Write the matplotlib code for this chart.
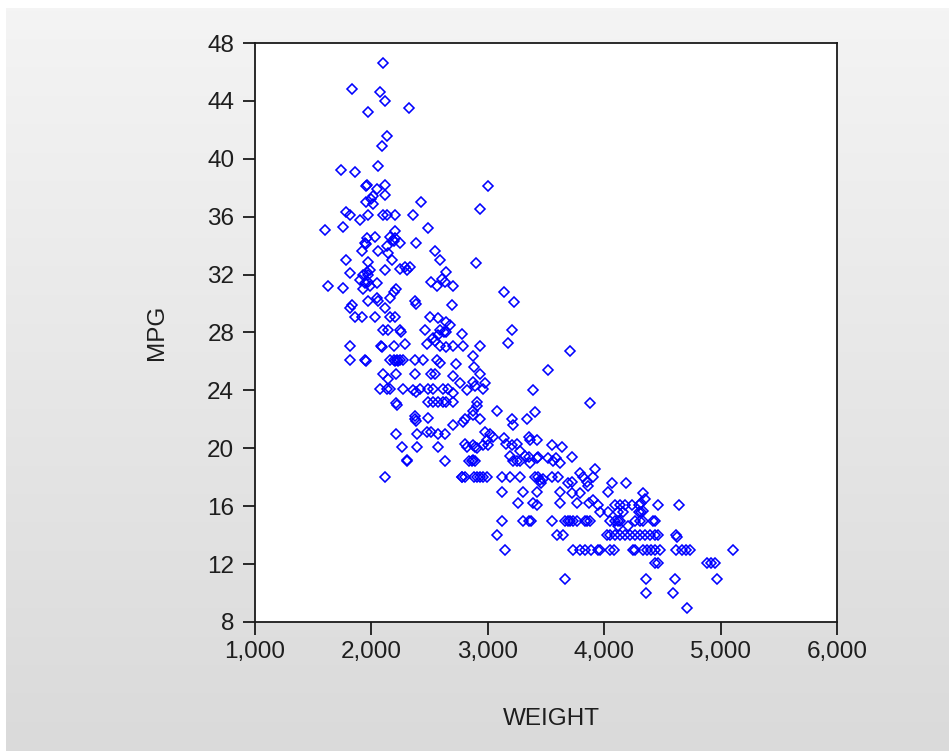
import numpy as np
import matplotlib
matplotlib.use("Agg")
import matplotlib.pyplot as plt

# Punkty (WEIGHT, MPG), pogrupowane od góry wykresu
weight = [
    # ~46-35 mpg
    2100, 1835, 2075, 2115, 1975, 2320, 2130, 2095, 2060, 1735, 1860, 1960, 1955, 2045, 2120,
    2425, 2115, 2010, 1995, 1955, 2015, 2930, 1785, 1815, 1905, 1975, 2100, 2135, 2205, 2355,
    1600, 1755, 2490, 2205, 3005,
    # ~34-30 mpg
    1960, 2030, 2160, 2205, 2190, 2185, 2245, 1945, 1950, 2385, 2130, 2060, 1915, 2145, 2545,
    2590, 1785, 1975, 2180, 2900, 2245, 2290, 2330, 2305, 1815, 1930, 1960, 1975, 1990, 2115,
    2645, 2605, 2630, 1630, 1755, 1900, 1945, 1975, 1930, 1990, 2045, 2215, 2190, 2515, 2560,
    2705, 3140, 3225, 2045, 2060, 1975, 2160, 2375, 2380,
    # ~30-25 mpg
    1830, 1815, 2115, 2690, 1860, 1915, 2030, 2160, 2205, 2505, 2575, 2645, 2675, 2100, 2145,
    2245, 2250, 2460, 2590, 2620, 2645, 2575, 2775, 2530, 2545, 3210, 3175, 1815, 2085, 2090,
    2190, 2290, 2475, 2590, 2645, 2705, 2790, 2935, 3705, 1815, 1945, 1950, 2160, 2190, 2205,
    2220, 2230, 2245, 2275, 2375, 2445, 2560, 2590, 2875, 2730, 2880, 3520,
    # ~25-21.5 mpg
    2100, 2145, 2215, 2375, 2515, 2545, 2705, 2935, 2760, 2875, 2890, 2975, 2960, 2075, 2130,
    2160, 2275, 2360, 2385, 2415, 2490, 2530, 2615, 2660, 2705, 2820, 3390, 3880, 2490, 2530,
    2575, 2615, 2645, 2705, 2215, 2220, 2905, 2875, 2905, 3075, 3405, 3335, 3205, 3220, 2935,
    2375, 2375, 2380, 2490, 2805, 2875, 2790, 2705,
    # ~21-18.5 mpg
    2215, 2390, 2475, 2515, 2575, 2630, 2975, 3020, 3045, 2990, 3135, 3160, 3205, 3250, 3350,
    3365, 3420, 2875, 2905, 2960, 3005, 3550, 3635, 2260, 2390, 2575, 2805, 2820, 2890, 3190,
    3275, 3320, 3350, 2305, 2310, 2630, 2835, 2860, 2890, 2875, 3220, 3250, 3275, 3365, 3420,
    3435, 3520, 3560, 3590, 3620, 3720, 3920,
    # ~18-15 mpg
    2120, 2775, 2780, 2800, 2880, 2905, 2935, 2960, 2990, 3120, 3190, 3275, 3405, 3435, 3450,
    3475, 3460, 3550, 3605, 3690, 3720, 3790, 3820, 3850, 3865, 3905, 4065, 4190, 3120, 3305,
    3420, 3620, 3720, 3790, 4035, 4335, 4350, 3260, 3390, 3420, 3620, 3770, 3870, 3905, 3950,
    4090, 4135, 4180, 4235, 4295, 4320, 4465, 4640, 3965, 4035, 4120, 4165, 4295, 4320, 4335,
    3120, 3305, 3350, 3375, 3550, 3665, 3690, 3710, 3735, 3765, 3835, 3850, 3880, 4050, 4090,
    4120, 4135, 4265, 4305, 4335, 4420, 4435,
    # ~14.5-9 mpg
    4120, 4205, 3075, 3595, 3650, 4020, 4050, 4090, 4135, 4180, 4220, 4265, 4305, 4350, 4395,
    4435, 4465, 4620, 4625, 3150, 3735, 3790, 3835, 3890, 3950, 3960, 4050, 4080, 4250, 4265,
    4335, 4365, 4405, 4435, 4480, 4620, 4665, 4705, 4735, 5105, 4435, 4465, 4880, 4920, 4950,
    3665, 4355, 4610, 4965, 4355, 4590, 4710,
]

mpg = [
    46.6, 44.8, 44.6, 44.0, 43.2, 43.5, 41.6, 40.9, 39.5, 39.2, 39.1, 38.2, 38.1, 37.9, 38.2,
    37.0, 37.5, 37.4, 37.2, 37.0, 36.9, 36.5, 36.3, 36.1, 35.8, 36.1, 36.1, 36.1, 36.1, 36.1,
    35.1, 35.3, 35.2, 35.0, 38.1,
    34.5, 34.6, 34.6, 34.5, 34.3, 34.4, 34.2, 34.2, 34.1, 34.2, 34.0, 33.6, 33.6, 33.5, 33.6,
    33.0, 33.0, 32.9, 33.0, 32.8, 32.4, 32.5, 32.5, 32.3, 32.1, 32.0, 32.2, 32.0, 32.3, 32.3,
    32.2, 31.7, 31.5, 31.2, 31.1, 31.6, 31.4, 31.5, 31.0, 31.2, 31.4, 31.0, 30.8, 31.5, 31.2,
    31.2, 30.8, 30.1, 30.4, 30.2, 30.2, 30.4, 30.2, 30.0,
    29.9, 29.7, 29.7, 29.9, 29.1, 29.1, 29.1, 29.1, 29.1, 29.1, 29.0, 28.7, 28.5, 28.2, 28.2,
    28.2, 28.0, 28.2, 28.2, 28.0, 28.0, 27.8, 27.9, 27.6, 27.4, 28.2, 27.3, 27.1, 27.1, 27.0,
    27.1, 27.2, 27.2, 27.1, 27.0, 27.1, 27.1, 27.1, 26.7, 26.1, 26.1, 26.0, 26.1, 26.1, 26.0,
    26.1, 26.0, 26.1, 26.1, 26.1, 26.1, 26.1, 25.9, 26.4, 25.8, 25.6, 25.4,
    25.1, 24.8, 25.1, 25.1, 25.1, 25.1, 25.0, 25.1, 24.5, 24.6, 24.3, 24.5, 24.1, 24.1, 24.1,
    24.1, 24.1, 24.0, 23.9, 24.1, 24.1, 24.1, 24.1, 24.1, 23.8, 24.0, 24.0, 23.1, 23.2, 23.2,
    23.2, 23.2, 23.2, 23.2, 23.1, 23.0, 23.2, 22.6, 22.9, 22.6, 22.5, 22.0, 22.0, 21.6, 22.0,
    22.2, 22.0, 21.9, 22.1, 22.0, 22.3, 21.8, 21.6,
    21.0, 21.0, 21.1, 21.1, 21.0, 21.0, 21.1, 21.0, 20.8, 20.6, 20.7, 20.3, 20.2, 20.3, 20.8,
    20.6, 20.6, 20.2, 20.0, 20.2, 20.2, 20.2, 20.1, 20.1, 20.1, 20.1, 20.3, 20.1, 20.1, 19.5,
    19.8, 19.5, 19.4, 19.1, 19.2, 19.1, 19.1, 19.1, 19.1, 19.2, 19.1, 19.1, 19.1, 19.0, 19.3,
    19.4, 19.3, 19.1, 19.3, 19.0, 19.4, 18.6,
    18.0, 18.0, 18.0, 18.0, 18.0, 18.0, 18.0, 18.0, 18.0, 18.0, 18.0, 18.0, 18.0, 18.0, 17.8,
    17.9, 17.6, 18.0, 18.0, 17.6, 17.7, 18.3, 18.0, 17.7, 17.4, 18.0, 17.6, 17.6, 17.0, 17.0,
    17.0, 17.0, 16.9, 16.9, 17.0, 16.9, 16.5, 16.2, 16.2, 16.1, 16.2, 16.2, 16.2, 16.4, 16.1,
    16.1, 16.1, 16.1, 16.1, 16.1, 16.2, 16.1, 16.1, 15.6, 15.6, 15.6, 15.6, 15.6, 15.6, 15.7,
    15.0, 15.0, 15.0, 15.0, 15.0, 15.0, 15.0, 15.0, 15.0, 15.0, 15.0, 15.0, 15.0, 15.0, 15.0,
    15.0, 15.0, 15.0, 15.0, 15.0, 15.0, 15.0,
    14.6, 14.6, 14.0, 14.0, 14.0, 14.0, 14.0, 14.0, 14.0, 14.0, 14.0, 14.0, 14.0, 14.0, 14.0,
    14.0, 14.0, 14.0, 13.9, 13.0, 13.0, 13.0, 13.0, 13.0, 13.0, 13.0, 13.0, 13.0, 13.0, 13.0,
    13.0, 13.0, 13.0, 13.0, 13.0, 13.0, 13.0, 13.0, 13.0, 13.0, 12.1, 12.1, 12.1, 12.1, 12.1,
    11.0, 11.0, 11.0, 11.0, 10.0, 10.0, 9.0,
]

x_ticks = [1000, 2000, 3000, 4000, 5000, 6000]
x_labels = ["1,000", "2,000", "3,000", "4,000", "5,000", "6,000"]
y_ticks = [8, 12, 16, 20, 24, 28, 32, 36, 40, 44, 48]

plt.rcParams['font.family'] = ['Liberation Sans', 'DejaVu Sans']
text_col = "#1e1e1e"

fig = plt.figure(figsize=(9.49, 7.51), dpi=100)
fig.patch.set_facecolor("white")

# szare tlo z gradientem (jak okno EViews)
bg = fig.add_axes([6 / 949, 0, 1 - 6 / 949, 1 - 8 / 751], zorder=0)
grad = np.linspace(0, 1, 256).reshape(-1, 1)
top_c = np.array([0.957, 0.957, 0.957])
bot_c = np.array([0.855, 0.855, 0.855])
img = top_c + (bot_c - top_c) * grad[:, :, None]
bg.imshow(img, aspect="auto", extent=[0, 1, 0, 1])
bg.axis("off")

ax = fig.add_axes([255 / 949, (751 - 622) / 751, 582 / 949, 579 / 751], zorder=1)
ax.set_facecolor("white")

ax.plot(weight, mpg, linestyle="none", marker="D", markersize=5.2,
        markerfacecolor="none", markeredgecolor="#0000ff", markeredgewidth=1.15)

ax.set_xlim(1000, 6000)
ax.set_ylim(8, 48)
ax.set_xticks(x_ticks)
ax.set_xticklabels(x_labels)
ax.set_yticks(y_ticks)

for s in ax.spines.values():
    s.set_color("#1a1a1a")
    s.set_linewidth(1.3)

ax.tick_params(axis="both", direction="out", length=9, width=1.3, color="#1a1a1a",
               labelsize=17.5, labelcolor=text_col, top=False, right=False)
ax.tick_params(axis="x", pad=5)
ax.tick_params(axis="y", pad=6)

ax.set_xlabel("WEIGHT", fontsize=17.5, color=text_col)
ax.set_ylabel("MPG", fontsize=17.5, color=text_col)
ax.xaxis.set_label_coords(0.51, -0.168)
ax.xaxis.label.set_va("center")
ax.yaxis.set_label_coords(-0.168, 0.5)
ax.yaxis.label.set_va("center")

plt.savefig("out.png", dpi=100)
